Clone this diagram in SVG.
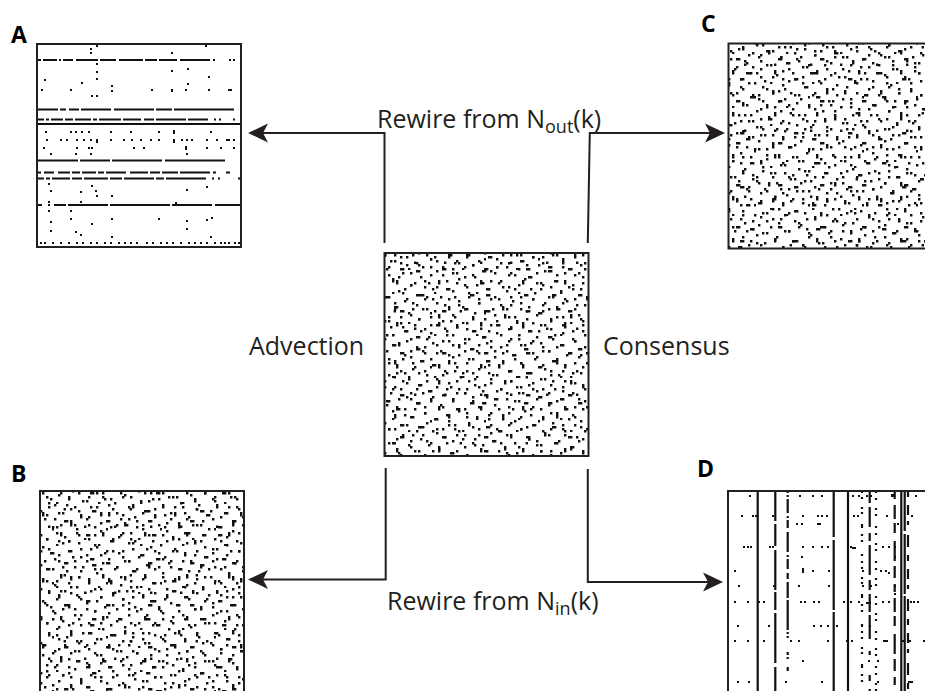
<svg xmlns="http://www.w3.org/2000/svg" width="925" height="691" viewBox="0 0 925 691">
<style>
.frame{fill:none;stroke:#231f20;stroke-width:2}
.conn{fill:none;stroke:#231f20;stroke-width:2}
.txt{font-family:"Open Sans","Noto Sans","Liberation Sans",sans-serif;font-size:25px;fill:#231f20}
.plabel{font-family:"Open Sans","Liberation Sans",sans-serif;font-size:23px;font-weight:700;fill:#000}
.dots{fill:#111}
.ln{stroke:#111;stroke-width:2.2}
</style>
<defs>
<pattern id="r1" width="42" height="42" patternUnits="userSpaceOnUse">
<path class="dots" d="M6 2h2.4v2.4h-2.4zM28 4h2.4v2.4h-2.4zM16 8h2.4v2.4h-2.4zM38 10h2.4v2.4h-2.4zM2 14h2.4v2.4h-2.4zM22 16h4.4v2.4h-4.4zM32 20h2.4v2.4h-2.4zM10 22h2.4v2.4h-2.4zM18 28h2.4v4.4h-2.4zM36 30h2.4v2.4h-2.4zM4 34h2.4v2.4h-2.4zM26 36h2.4v2.4h-2.4zM14 40h2.4v2h-2.4z"/>
</pattern>
<pattern id="r2" width="54" height="54" patternUnits="userSpaceOnUse">
<path class="dots" d="M4 0h2.4v2.4h-2.4zM24 2h2.4v2.4h-2.4zM42 6h2.4v2.4h-2.4zM14 10h2.4v2.4h-2.4zM50 12h2.4v2.4h-2.4zM32 14h2.4v2.4h-2.4zM0 18h2.4v2.4h-2.4zM20 20h2.4v2.4h-2.4zM38 24h4.4v2.4h-4.4zM8 26h2.4v2.4h-2.4zM46 28h2.4v2.4h-2.4zM26 30h2.4v2.4h-2.4zM16 36h2.4v4.4h-2.4zM34 38h2.4v2.4h-2.4zM2 40h2.4v2.4h-2.4zM52 42h2v2.4h-2zM22 46h2.4v2.4h-2.4zM40 48h2.4v2.4h-2.4zM10 50h2.4v2.4h-2.4zM30 52h2.4v2h-2.4z"/>
</pattern>
<pattern id="r3" width="66" height="66" patternUnits="userSpaceOnUse">
<path class="dots" d="M10 0h2.4v2.4h-2.4zM34 2h2.4v2.4h-2.4zM56 4h2.4v2.4h-2.4zM20 6h4.4v2.4h-4.4zM46 10h2.4v2.4h-2.4zM2 12h2.4v2.4h-2.4zM62 14h2.4v2.4h-2.4zM28 16h2.4v2.4h-2.4zM14 20h2.4v2.4h-2.4zM40 22h2.4v2.4h-2.4zM52 24h2.4v2.4h-2.4zM6 28h2.4v2.4h-2.4zM24 30h4.4v2.4h-4.4zM58 32h2.4v2.4h-2.4zM36 34h2.4v2.4h-2.4zM16 38h2.4v2.4h-2.4zM48 40h2.4v2.4h-2.4zM0 42h2.4v2.4h-2.4zM30 44h2.4v2.4h-2.4zM63.6 46h2.4v2.4h-2.4zM12 48h2.4v2.4h-2.4zM42 50h2.4v4.4h-2.4zM22 54h2.4v2.4h-2.4zM54 56h2.4v2.4h-2.4zM4 58h2.4v2.4h-2.4zM34 60h2.4v2.4h-2.4zM60 62h2.4v2.4h-2.4zM18 63.6h2.4v2.4h-2.4zM48 63.6h2.4v2.4h-2.4z"/>
</pattern>
<marker id="ah" viewBox="0 -10 20 20" refX="5" refY="0" markerWidth="20" markerHeight="20" markerUnits="userSpaceOnUse" orient="auto">
<path d="M20 0L0 -9.5L5 0L0 9.5Z" fill="#231f20"/>
</marker>
</defs>
<rect width="925" height="691" fill="#fff"/>

<g id="panel-A">
<g class="ln">
<line x1="38" y1="60" x2="240" y2="60" stroke-dasharray="3 2 14 2 2 2 10 3 22 2 16 3 24 2 12 2 18 3 30"/>
<line x1="38" y1="109.5" x2="240" y2="109.5" stroke-dasharray="20 2 6 3 10 2 30 3 40 2 16 2 60"/>
<line x1="38" y1="119.5" x2="240" y2="119.5" stroke-dasharray="6 2 3 2 12 2 8 2 16 2 4 2 22 2 18 3 10 2 30 2 20"/>
<line x1="38" y1="124" x2="240" y2="124"/>
<line x1="38" y1="160.5" x2="240" y2="160.5" stroke-dasharray="40 2 30 2 50 3 60"/>
<line x1="38" y1="172.5" x2="240" y2="172.5" stroke-dasharray="3 3 10 4 12 2 8 2 14 2 6 2 20 4 18 2 10 2 16 2 30"/>
<line x1="38" y1="178.5" x2="240" y2="178.5" stroke-dasharray="6 2 4 2 18 2 10 2 24 2 12 2 30 2 8 2 40"/>
<line x1="38" y1="205" x2="240" y2="205" stroke-dasharray="4 6 2 4 12 2 40 2 60 2 40 3 30"/>
</g>
<path class="dots" d="M90 48h2v2h-2zM96 45h2v2h-2zM90 52h2v2h-2zM171 52h2v2h-2zM205 45h2v2h-2zM96 63h2v2h-2zM96 71h2v2h-2zM171 70h2v2h-2zM187 68h2v2h-2zM44 79h2v2h-2zM96 78h2v2h-2zM81 82h2v2h-2zM208 76h2v2h-2zM111 85h2v2h-2zM187 83h2v2h-2zM41 89h2v2h-2zM70 89h2v2h-2zM111 90h2v2h-2zM151 89h2v2h-2zM171 89h2v3h-2zM185 89h2v2h-2zM208 89h2v2h-2zM228 89h4v2h-4zM91 95h2v2h-2zM96 95h2v2h-2z
M45 131h2v2h-2zM70 131h2v2h-2zM75 131h2v2h-2zM81 131h2v2h-2zM88 131h2v2h-2zM110 131h2v2h-2zM130 131h2v2h-2zM158 131h2v2h-2zM173 130h2v4h-2zM210 131h2v2h-2z
M46 139h2v2h-2zM60 139h2v2h-2zM66 139h2v2h-2zM76 139h2v2h-2zM83 139h2v2h-2zM90 139h2v2h-2zM96 139h2v4h-2zM110 139h2v2h-2zM123 139h2v2h-2zM131 139h2v2h-2zM140 139h2v2h-2zM150 139h2v2h-2zM158 139h2v2h-2zM173 139h2v4h-2zM181 139h2v2h-2zM186 139h2v2h-2zM191 139h2v2h-2zM206 139h2v2h-2zM216 139h2v2h-2zM226 139h4v2h-4zM233 139h2v2h-2z
M43 147h2v2h-2zM76 147h2v2h-2zM88 147h2v2h-2zM91 147h2v2h-2zM133 147h2v2h-2zM143 147h2v2h-2zM185 146h2v4h-2zM206 147h2v2h-2zM220 147h2v2h-2zM233 147h2v2h-2z
M50 153h2v2h-2zM75 153h2v2h-2zM90 153h2v2h-2zM186 153h2v2h-2z
M48 183h2v2h-2zM50 190h2v2h-2zM80 191h2v2h-2zM91 185h2v2h-2zM95 190h2v2h-2zM96 195h2v2h-2zM111 195h2v2h-2zM186 189h2v2h-2zM206 186h2v2h-2zM48 201h2v2h-2zM80 201h2v2h-2zM175 202h2v2h-2z
M48 210h2v2h-2zM70 210h2v2h-2zM50 221h2v2h-2zM70 218h2v2h-2zM111 218h2v2h-2zM158 218h2v2h-2zM186 220h2v2h-2zM206 219h2v2h-2zM211 217h2v2h-2zM50 230h2v2h-2zM75 231h2v2h-2zM80 234h2v2h-2zM91 223h2v2h-2zM186 228h2v2h-2zM111 236h2v2h-2zM210 236h2v2h-2z
M40 242h2v2h-2zM44 242h2v2h-2zM52 242h2v2h-2zM60 242h2v2h-2zM68 242h2v2h-2zM76 242h2v2h-2zM82 242h2v2h-2zM90 242h2v2h-2zM96 242h2v2h-2zM104 242h2v2h-2zM110 242h2v2h-2zM118 242h2v2h-2zM124 242h2v2h-2zM130 242h2v2h-2zM136 242h2v2h-2zM146 242h2v2h-2zM152 242h2v2h-2zM160 242h2v2h-2zM166 242h2v2h-2zM172 242h2v2h-2zM180 242h2v2h-2zM188 242h2v2h-2zM194 242h2v2h-2zM200 242h2v2h-2zM206 242h2v2h-2zM214 242h2v2h-2zM220 242h2v2h-2zM224 242h2v2h-2zM228 242h2v2h-2zM234 242h2v2h-2zM238 242h2v2h-2z"/>
<rect class="frame" x="37" y="44" width="204" height="203"/>
<text class="plabel" x="11" y="43">A</text>
</g>

<g id="panel-center">
<rect x="384.5" y="253" width="204" height="203" fill="url(#r1)"/>
<rect x="384.5" y="253" width="204" height="203" fill="url(#r2)"/>
<rect x="384.5" y="253" width="204" height="203" fill="url(#r3)"/>
<rect class="frame" x="384.5" y="253" width="204" height="203"/>
</g>

<g id="panel-C">
<rect x="728.5" y="43.5" width="204" height="205" fill="url(#r1)"/>
<rect x="728.5" y="43.5" width="204" height="205" fill="url(#r2)"/>
<rect x="728.5" y="43.5" width="204" height="205" fill="url(#r3)"/>
<rect class="frame" x="728.5" y="43.5" width="204" height="205"/>
<text class="plabel" x="701" y="32">C</text>
</g>

<g id="panel-B">
<rect x="40" y="491" width="204" height="204" fill="url(#r1)"/>
<rect x="40" y="491" width="204" height="204" fill="url(#r2)"/>
<rect x="40" y="491" width="204" height="204" fill="url(#r3)"/>
<rect class="frame" x="40" y="491" width="204" height="204"/>
<text class="plabel" x="11" y="482">B</text>
</g>

<g id="panel-D">
<g class="ln">
<line x1="757.7" y1="491" x2="757.7" y2="691"/>
<line x1="775.3" y1="491" x2="775.3" y2="691" stroke-dasharray="30 3 22 4 40 2 18 3 50 4 30"/>
<line x1="787.7" y1="491" x2="787.7" y2="691" stroke-dasharray="2 2 2 2 14 3 2 2 8 4 20 3 2 2 10 4 6 3 16 2 30"/>
<line x1="833.7" y1="491" x2="833.7" y2="691" stroke-dasharray="46 3 70 2 90"/>
<line x1="848" y1="491" x2="848" y2="691"/>
<line x1="862" y1="491" x2="862" y2="691" stroke-dasharray="2 4 2 8 2 3 2 10 4 6 2 4 2 12 2 5"/>
<line x1="869.7" y1="491" x2="869.7" y2="691" stroke-dasharray="12 4 20 6 8 4 30 5 10 4 18 3 24"/>
<line x1="876" y1="491" x2="876" y2="691" stroke-dasharray="2 5 2 8 2 4 2 10"/>
<line x1="894.7" y1="491" x2="894.7" y2="691" stroke-dasharray="8 6 14 4 10 8 20 5 12 6"/>
<line x1="901.3" y1="491" x2="901.3" y2="691"/>
<line x1="904.7" y1="491" x2="904.7" y2="691" stroke-dasharray="40 3 60 2 100"/>
<line x1="908" y1="491" x2="908" y2="691" stroke-dasharray="6 8 10 6 4 10 12 8"/>
</g>
<path class="dots" d="M749 495h2v2h-2zM799 495h2v2h-2zM812 495h2v2h-2zM821 495h2v2h-2zM852 495h2v2h-2zM858 495h2v2h-2zM866 495h2v2h-2zM870 495h2v2h-2zM891 494h4v3h-4zM915 495h2v2h-2z
M741 515h2v2h-2zM752 515h2v2h-2zM755 515h2v2h-2zM772 515h2v2h-2zM802 515h2v2h-2zM817 515h2v2h-2zM821 515h2v2h-2zM826 515h2v2h-2zM853 515h2v2h-2zM857 515h2v2h-2zM886 515h2v2h-2zM911 515h2v2h-2z
M796 523h2v2h-2zM801 523h2v2h-2zM817 523h4v2h-4zM897 523h2v2h-2z
M743 546h2v2h-2zM747 546h2v2h-2zM750 546h2v2h-2zM769 546h2v2h-2zM772 546h2v2h-2zM802 546h2v2h-2zM812 546h2v2h-2zM821 546h2v2h-2zM827 546h2v2h-2zM850 546h2v2h-2zM852 547h4v2h-4zM882 546h2v2h-2zM888 546h2v2h-2zM894 546h2v2h-2z
M801 556h2v2h-2zM894 556h2v2h-2z
M734 570h2v2h-2zM802 568h2v5h-2zM812 570h2v2h-2zM828 570h2v2h-2zM862 570h2v2h-2zM880 570h2v2h-2zM885 570h2v2h-2zM888 572h2v2h-2z
M738 585h2v2h-2zM773 585h2v2h-2zM798 585h2v2h-2zM828 585h2v2h-2zM862 585h2v2h-2zM870 585h2v2h-2zM894 585h2v2h-2zM894 593h2v2h-2z
M734 601h2v2h-2zM747 601h2v2h-2zM758 601h2v2h-2zM763 601h2v2h-2zM800 601h2v2h-2zM804 601h2v2h-2zM813 601h2v2h-2zM818 601h2v2h-2zM843 601h2v2h-2zM850 601h2v2h-2zM858 601h2v2h-2zM866 602h5v2h-5zM882 601h2v2h-2zM888 601h2v2h-2zM910 601h2v2h-2zM913 601h2v2h-2zM917 601h2v2h-2z
M737 625h2v2h-2zM768 625h2v2h-2zM813 625h2v2h-2zM820 625h2v2h-2zM827 625h2v2h-2zM836 625h2v2h-2zM861 625h2v2h-2zM869 625h2v2h-2z
M734 640h2v2h-2zM747 640h2v2h-2zM763 640h2v2h-2zM790 640h2v2h-2zM798 640h2v2h-2zM827 640h2v2h-2zM846 640h2v2h-2zM851 640h2v2h-2zM883 640h5v2h-5zM902 640h2v2h-2zM909 640h2v2h-2zM923 640h2v2h-2z
M802 660h2v2h-2zM868 660h2v2h-2zM877 660h2v2h-2z
M737 681h2v2h-2zM748 681h2v2h-2zM785 681h2v2h-2zM821 681h2v2h-2zM877 681h2v2h-2zM908 681h5v2h-5z"/>
<rect class="frame" x="728" y="491" width="204" height="204"/>
<text class="plabel" x="697" y="477">D</text>
</g>

<g id="connectors">
<path class="conn" d="M384.5 243V133H263" marker-end="url(#ah)"/>
<path class="conn" d="M587.8 243L589.8 133H710" marker-end="url(#ah)"/>
<path class="conn" d="M385.7 468V579.5H263" marker-end="url(#ah)"/>
<path class="conn" d="M587.8 469V582H708" marker-end="url(#ah)"/>
</g>

<g id="labels">
<text class="txt" x="377" y="128">Rewire from N<tspan font-size="18" dy="5">out</tspan><tspan dy="-5">(k)</tspan></text>
<text class="txt" x="387" y="610">Rewire from N<tspan font-size="18" dy="5">in</tspan><tspan dy="-5">(k)</tspan></text>
<text class="txt" x="249" y="355" font-size="26">Advection</text>
<text class="txt" x="603" y="355" font-size="26">Consensus</text>
</g>
</svg>
